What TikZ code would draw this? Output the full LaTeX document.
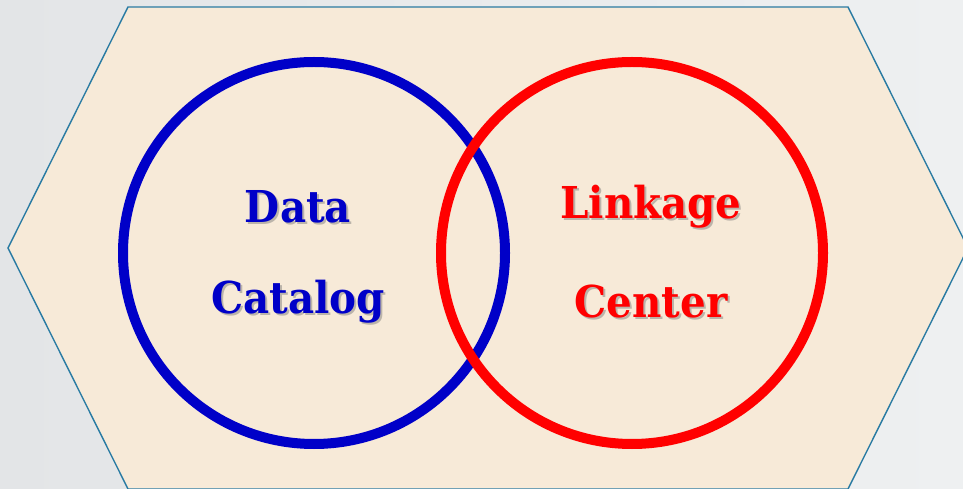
\documentclass[tikz,border=0pt]{standalone}
\usepackage{fontspec}
\setmainfont{DejaVu Serif}[FakeStretch=0.92]
\usepackage{tikz}
\usetikzlibrary{calc}

\definecolor{bgL}{HTML}{E3E5E7}
\definecolor{bgR}{HTML}{EEF0F1}
\definecolor{hexFill}{HTML}{F7EAD8}
\definecolor{hexLine}{HTML}{2A7BA3}
\definecolor{catBlue}{HTML}{0000C8}
\definecolor{linkRed}{HTML}{FF0000}

\begin{document}
\begin{tikzpicture}[x=0.02cm,y=-0.02cm]
\def\r{191}
\def\w{10}
\tikzset{
  ring/.style={circle, draw, line width=\w*0.02cm, minimum size=2*\r*0.02cm, inner sep=0pt},
  word/.style={font=\bfseries\fontsize{25}{30}\selectfont},
  shade/.style={word, text=black!55, opacity=0.45}
}
% background
\fill[left color=bgL, right color=bgR] (0,0) rectangle (963,489);
\useasboundingbox (0,0) rectangle (963,489);
% hexagon
\filldraw[fill=hexFill, draw=hexLine, line width=0.8pt]
  (128,7) -- (848,7) -- (968,248) -- (848,489) -- (128,489) -- (8,248) -- cycle;
% circles
\node[ring, draw=catBlue] (cat) at (314,253) {};
\node[ring, draw=linkRed] (link) at (632,253) {};
% text shadows
\node[shade] (dataS) at (300,209) {Data};
\node[shade] (catalogS) at (300,304) {Catalog};
\node[shade] (linkageS) at (653,209) {Linkage};
\node[shade] (centerS) at (653,304) {Center};
% text
\node[word, text=catBlue] (data) at (298,207) {Data};
\node[word, text=catBlue] (catalog) at (298,302) {Catalog};
\node[word, text=linkRed] (linkage) at (651,207) {Linkage};
\node[word, text=linkRed] (center) at (651,302) {Center};
\end{tikzpicture}
\end{document}
